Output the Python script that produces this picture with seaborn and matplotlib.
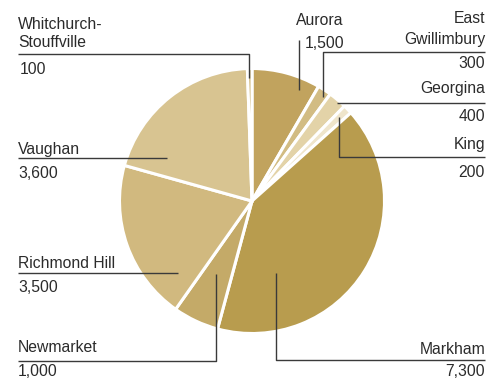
import matplotlib
matplotlib.use("Agg")
import matplotlib.pyplot as plt
import seaborn as sns

# Residents by municipality
municipalities = ["Aurora", "East Gwillimbury", "Georgina", "King", "Markham",
                  "Newmarket", "Richmond Hill", "Vaughan", "Whitchurch-Stouffville"]
residents = [1500, 300, 400, 200, 7300, 1000, 3500, 3600, 100]
value_labels = ["1,500", "300", "400", "200", "7,300", "1,000", "3,500", "3,600", "100"]
slice_colors = ["#C1A35E", "#D2BC83", "#E3D3A8", "#EFE5CB", "#B89C4E",
                "#C4AA68", "#D1B97F", "#D8C491", "#C9AF6E"]

sns.set_theme(style="white")
plt.rcParams["font.family"] = ["Liberation Sans Narrow", "Liberation Sans", "DejaVu Sans"]

W, H = 490, 381
fig = plt.figure(figsize=(W / 100, H / 100), dpi=100)
ax = fig.add_axes([0, 0, 1, 1])


def Y(py):
    return H - py


palette = sns.color_palette(slice_colors)
ax.pie(residents, colors=palette, startangle=90, counterclock=False,
       center=(252, Y(201)), radius=132.5,
       wedgeprops=dict(edgecolor="white", linewidth=2.2))
ax.set_xlim(0, W)
ax.set_ylim(0, H)
ax.set_aspect("equal")
ax.axis("off")

TXT = "#2b2b2b"
LINE = "#3a3a3a"
FS = 11.3


def leader(xs, ys):
    ax.plot(xs, [Y(v) for v in ys], color=LINE, lw=1.0, solid_capstyle="butt", zorder=5)


def label(x, y, s, ha="left"):
    ax.text(x, Y(y), s, ha=ha, va="baseline", fontsize=FS, color=TXT, zorder=6)


names = dict(zip(municipalities, value_labels))

# Left-hand labels
label(18, 29, "Whitchurch-")
label(18, 47, "Stouffville")
label(20, 74, names["Whitchurch-Stouffville"])
leader([18, 249, 249], [54, 54, 78])

label(18, 154, "Vaughan")
label(18, 178, names["Vaughan"])
leader([18, 167], [158, 158])

label(18, 268, "Richmond Hill")
label(18, 292, names["Richmond Hill"])
leader([18, 178], [273, 273])

label(18, 352, "Newmarket")
label(18, 376, names["Newmarket"])
leader([18, 216, 216], [361, 361, 274])

# Right-hand labels
label(485, 354, "Markham", ha="right")
label(485, 376, names["Markham"], ha="right")
leader([485, 276, 276], [360, 360, 273])

label(485, 149, "King", ha="right")
label(485, 177, names["King"], ha="right")
leader([485, 339, 339], [157, 157, 117])

label(485, 93, "Georgina", ha="right")
label(485, 121, names["Georgina"], ha="right")
leader([485, 337], [103, 103])

label(485, 23, "East", ha="right")
label(485, 44, "Gwillimbury", ha="right")
label(485, 68, names["East Gwillimbury"], ha="right")
leader([485, 323, 323], [52, 52, 97])

label(296, 25, "Aurora")
label(305, 48, names["Aurora"])
leader([299, 299], [40, 90])

fig.savefig("out.png", dpi=100)
